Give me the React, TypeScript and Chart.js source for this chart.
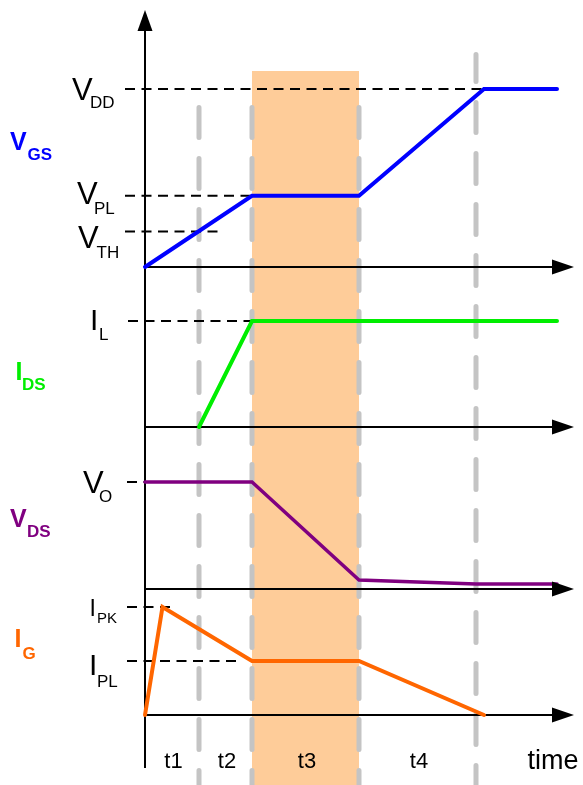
import { useEffect, useRef } from "react";
import { Chart, registerables } from "chart.js";

Chart.register(...registerables);

// ---------------- data ----------------
// time in arbitrary units, 0 = start of gate drive
const phaseBounds = [0, 5.4, 10.7, 21.4, 33.1]; // boundaries of t1..t4
const phaseLabels = ["t1", "t2", "t3", "t4"];
const timeLabel = "time";

// normalised waveforms (1 = VDD / IL / VO / IPK)
const vgsTime = [0, 10.7, 21.4, 33.9, 41.2];
const vgsValue = [0, 0.4, 0.4, 1, 1];
const idsTime = [5.4, 10.7, 41.2];
const idsValue = [0, 1, 1];
const vdsTime = [0, 10.7, 21.4, 33.1, 41.2];
const vdsValue = [1, 1, 0.084, 0.047, 0.047];
const igTime = [0, 1.75, 10.7, 21.4, 33.9];
const igValue = [0, 1, 0.5, 0.5, 0];

// signal names
const signalPanel = ["vgs", "ids", "vds", "ig"];
const signalMain = ["V", "I", "V", "I"];
const signalSub = ["GS", "DS", "DS", "G"];

// reference levels (dashed lines)
const refMain = ["V", "V", "V", "I", "V", "I", "I"];
const refSub = ["DD", "PL", "TH", "L", "O", "PK", "PL"];
const refPanel = ["vgs", "vgs", "vgs", "ids", "vds", "ig", "ig"];
const refLevel = [1, 0.4, 0.2, 1, 1, 1, 0.5];
const refFrom = [-2.0, -2.0, -2.0, -1.7, -1.8, -1.8, -1.8];
const refTo = [33.9, 10.7, 7.3, 10.7, 0, 2.7, 9.7];

// ---------------- layout / style ----------------
const W = 583;
const H = 785;
const X0 = 145; // pixel of time 0
const PXU = 10; // pixels per time unit
const AXIS_END_T = 42.9;
const panelBase: Record<string, number> = { vgs: 267, ids: 427, vds: 589, ig: 715 };
const panelUnit: Record<string, number> = { vgs: 178, ids: 106, vds: 107, ig: 108 };
const signalColor = ["#0000ff", "#00ee00", "#800080", "#ff6600"];
const signalWidth = [4, 4, 3.5, 4];
const SHADE = "#fecc99";
const SHADE_TOP = 71;
const GRAY = "#c4c4c4";
const grayTop = [107.5, 107.5, 107.5, 54.5];
const grayOffset = [0, 0, 0, 3];
const AXIS_TOP = 31;
const AXIS_BOTTOM = 768;
const FONT = '"Liberation Sans", Arial, Helvetica, sans-serif';

const refMainX = [72, 77, 78, 90, 83, 89.5, 89];
const refMainDy = [11, 8, 17, 9, 11, 9, 14];
const refMainSize = [31, 31, 31, 30, 31, 23, 30];
const refSubX = [90, 94, 96.5, 99, 99, 97, 97];
const refSubDy = [19, 18, 27, 19, 20, 16, 26];
const refSubSize = [17, 17, 17, 17, 17, 15, 17];

const sigMainX = [10, 15.5, 10, 14.5];
const sigMainY = [150, 380, 527, 647];
const sigSubX = [27.5, 22, 27, 22.5];
const sigSubY = [160, 390, 537, 659];

function panelScale(p: string) {
  const b = panelBase[p];
  const u = panelUnit[p];
  return {
    type: "linear" as const,
    axis: "y" as const,
    display: false,
    bounds: "data" as const,
    min: (b - H) / u,
    max: b / u,
  };
}

function pts(t: number[], v: number[]) {
  return t.map((x, i) => ({ x, y: v[i] }));
}

const decorPlugin = {
  id: "decor",
  beforeDatasetsDraw(chart: any) {
    const { ctx, scales } = chart;
    const x = scales.x;
    const pg = scales.page;
    const x1 = x.getPixelForValue(phaseBounds[2]);
    const x2 = x.getPixelForValue(phaseBounds[3]);
    const y1 = pg.getPixelForValue(SHADE_TOP);
    const y2 = pg.getPixelForValue(H);
    ctx.save();
    ctx.fillStyle = SHADE;
    ctx.fillRect(x1, y1, x2 - x1, y2 - y1);
    ctx.restore();
  },
  afterDatasetsDraw(chart: any) {
    const { ctx, scales } = chart;
    const x = scales.x;
    const pg = scales.page;
    ctx.save();
    ctx.fillStyle = "#000";
    // right arrows
    const tip = x.getPixelForValue(AXIS_END_T);
    for (const p of ["vgs", "ids", "vds", "ig"]) {
      const y = scales[p].getPixelForValue(0);
      ctx.beginPath();
      ctx.moveTo(tip, y);
      ctx.lineTo(tip - 22, y - 7.5);
      ctx.lineTo(tip - 22, y + 7.5);
      ctx.closePath();
      ctx.fill();
    }
    // up arrow
    const ax = x.getPixelForValue(0);
    const topY = pg.getPixelForValue(10);
    ctx.beginPath();
    ctx.moveTo(ax, topY);
    ctx.lineTo(ax - 7.5, topY + 21);
    ctx.lineTo(ax + 7.5, topY + 21);
    ctx.closePath();
    ctx.fill();

    // reference labels
    ctx.textAlign = "left";
    ctx.textBaseline = "alphabetic";
    for (let i = 0; i < refMain.length; i++) {
      const ly = scales[refPanel[i]].getPixelForValue(refLevel[i]);
      ctx.font = `${refMainSize[i]}px ${FONT}`;
      ctx.fillText(refMain[i], refMainX[i], ly + refMainDy[i]);
      ctx.font = `${refSubSize[i]}px ${FONT}`;
      ctx.fillText(refSub[i], refSubX[i], ly + refSubDy[i]);
    }
    // signal labels
    for (let i = 0; i < signalMain.length; i++) {
      ctx.fillStyle = signalColor[i];
      ctx.font = `bold 25px ${FONT}`;
      ctx.fillText(signalMain[i], sigMainX[i], sigMainY[i]);
      ctx.font = `bold 17px ${FONT}`;
      ctx.fillText(signalSub[i], sigSubX[i], sigSubY[i]);
    }
    // phase labels
    ctx.fillStyle = "#000";
    ctx.textAlign = "center";
    ctx.font = `22px ${FONT}`;
    for (let i = 0; i < phaseLabels.length; i++) {
      const cx = x.getPixelForValue((phaseBounds[i] + phaseBounds[i + 1]) / 2) + 1.5;
      ctx.fillText(phaseLabels[i], cx, 768);
    }
    ctx.textAlign = "left";
    ctx.font = `27px ${FONT}`;
    ctx.fillText(timeLabel, 527.5, 769);
    ctx.restore();
  },
};

export default function App() {
  const ref = useRef<HTMLCanvasElement>(null);

  useEffect(() => {
    if (!ref.current) return;
    const datasets: any[] = [];
    const sigT = [vgsTime, idsTime, vdsTime, igTime];
    const sigV = [vgsValue, idsValue, vdsValue, igValue];
    for (let i = 0; i < 4; i++) {
      datasets.push({
        data: pts(sigT[i], sigV[i]),
        yAxisID: signalPanel[i],
        borderColor: signalColor[i],
        borderWidth: signalWidth[i],
        borderCapStyle: "round",
        borderJoinStyle: "miter",
        order: 0,
      });
    }
    // axes
    for (const p of ["vgs", "ids", "vds", "ig"]) {
      datasets.push({
        data: pts([0, AXIS_END_T - 2], [0, 0]),
        yAxisID: p,
        borderColor: "#000",
        borderWidth: 2,
        order: 1,
      });
    }
    datasets.push({
      data: pts([0, 0], [AXIS_TOP, AXIS_BOTTOM]),
      yAxisID: "page",
      borderColor: "#000",
      borderWidth: 2,
      order: 1,
    });
    // reference dashed lines
    for (let i = 0; i < refLevel.length; i++) {
      datasets.push({
        data: pts([refFrom[i], refTo[i]], [refLevel[i], refLevel[i]]),
        yAxisID: refPanel[i],
        borderColor: "#000",
        borderWidth: 2,
        borderDash: [10, 6.5],
        order: 2,
      });
    }
    // gray phase boundaries
    for (let i = 1; i < phaseBounds.length; i++) {
      datasets.push({
        data: pts([phaseBounds[i], phaseBounds[i]], [grayTop[i - 1], H + 10]),
        yAxisID: "page",
        borderColor: GRAY,
        borderWidth: 5,
        borderDash: [30, 21],
        borderDashOffset: grayOffset[i - 1],
        borderCapStyle: "round",
        order: 3,
      });
    }
    for (const d of datasets) {
      d.xAxisID = "x";
      d.pointRadius = 0;
      d.pointHoverRadius = 0;
      d.fill = false;
      d.tension = 0;
      d.clip = false;
    }

    const chart = new Chart(ref.current, {
      type: "line",
      data: { datasets },
      options: {
        animation: false,
        responsive: false,
        maintainAspectRatio: false,
        devicePixelRatio: 1,
        events: [],
        layout: { padding: 0, autoPadding: false },
        plugins: {
          legend: { display: false },
          tooltip: { enabled: false },
          title: { display: false },
        },
        scales: {
          x: { type: "linear", display: false, bounds: "data", min: -X0 / PXU, max: (W - X0) / PXU },
          page: { type: "linear", axis: "y", display: false, bounds: "data", min: 0, max: H, reverse: true },
          vgs: panelScale("vgs"),
          ids: panelScale("ids"),
          vds: panelScale("vds"),
          ig: panelScale("ig"),
        },
      } as any,
      plugins: [decorPlugin],
    });
    return () => chart.destroy();
  }, []);

  return (
    <div style={{ position: "fixed", left: 0, top: 0, width: W, height: H, background: "#fff" }}>
      <canvas ref={ref} width={W} height={H} style={{ display: "block", width: W, height: H }} />
    </div>
  );
}
